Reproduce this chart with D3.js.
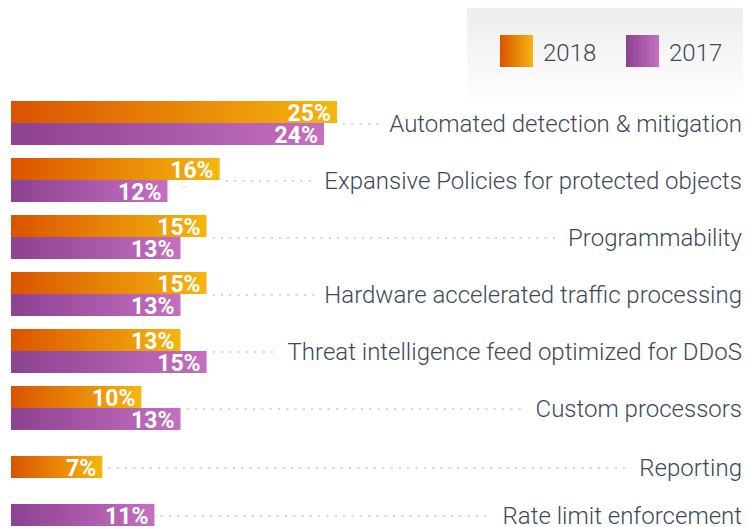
<!DOCTYPE html>
<html>
<head>
<meta charset="utf-8">
<script src="https://cdn.jsdelivr.net/npm/d3@7"></script>
<style>
  body { margin: 0; background: #fff; }
  svg { display: block; font-family: Roboto, "Open Sans", sans-serif; }
</style>
</head>
<body>
<div id="chart"></div>
<script>
// données du graphique
const categories = [
  "Automated detection & mitigation",
  "Expansive Policies for protected objects",
  "Programmability",
  "Hardware accelerated traffic processing",
  "Threat intelligence feed optimized for DDoS",
  "Custom processors",
  "Reporting",
  "Rate limit enforcement"
];
const series = ["2018", "2017"];
const values2018 = [25, 16, 15, 15, 13, 10, 7, null];
const values2017 = [24, 12, 13, 13, 15, 13, null, 11];

//------Dimensions
const W = 746, H = 527;
const barH = 22;

const svg = d3.select("#chart")
  .append("svg")
  .attr("width", W)
  .attr("height", H);

//------Dégradés
const defs = svg.append("defs");
const grads = [
  { id: "g2018", from: "#db5300", to: "#f5b60f" },
  { id: "g2017", from: "#8c4290", to: "#c56fc1" },
  { id: "gLegend", from: "#eceeec", to: "#ffffff", vertical: true }
];
grads.forEach(g => {
  const lg = defs.append("linearGradient")
    .attr("id", g.id)
    .attr("x1", 0).attr("y1", 0)
    .attr("x2", g.vertical ? 0 : 1)
    .attr("y2", g.vertical ? 1 : 0);
  lg.append("stop").attr("offset", "0%").attr("stop-color", g.from);
  lg.append("stop").attr("offset", "100%").attr("stop-color", g.to);
});
const fillFor = { "2018": "url(#g2018)", "2017": "url(#g2017)" };

//------Échelles
const xScale = d3.scaleLinear().domain([0, 25]).range([11, 337]);
// centre de chaque ligne (les deux dernières lignes n'ont qu'une barre)
const rowScale = d3.scaleLinear().domain([0, 5, 6, 7]).range([123, 408, 467, 515]);
const serieScale = d3.scaleBand().domain(series).range([-barH, barH]);

//------Légende
const legend = svg.append("g");
legend.append("rect")
  .attr("x", 467).attr("y", 8)
  .attr("width", 276).attr("height", 99)
  .attr("fill", "url(#gLegend)");
const legX = d3.scaleOrdinal().domain(series).range([500, 626]);
series.forEach(s => {
  legend.append("rect")
    .attr("x", legX(s)).attr("y", 35)
    .attr("width", 33).attr("height", 32)
    .attr("fill", fillFor[s]);
  legend.append("text")
    .attr("x", legX(s) + 43).attr("y", 61)
    .attr("fill", "#3c4a57")
    .attr("font-size", 24)
    .attr("font-weight", 300)
    .text(s);
});

//------Données par ligne
const rows = categories.map((c, i) => {
  const bars = [];
  if (values2018[i] != null) bars.push({ serie: "2018", value: values2018[i] });
  if (values2017[i] != null) bars.push({ serie: "2017", value: values2017[i] });
  return { label: c, index: i, bars: bars };
});

const row = svg.selectAll(".row")
  .data(rows)
  .enter()
  .append("g")
  .attr("class", "row")
  .attr("transform", d => `translate(0,${rowScale(d.index)})`);

//------Texte des catégories
row.append("text")
  .attr("x", 742)
  .attr("y", 0)
  .attr("dy", "0.36em")
  .attr("text-anchor", "end")
  .attr("fill", "#3c4a57")
  .attr("font-size", 24)
  .attr("font-weight", 300)
  .text(d => d.label)
  .each(function (d) { d.labelStart = this.getComputedTextLength(); });

//------Lignes pointillées
row.append("line")
  .attr("x1", d => xScale(d3.max(d.bars, b => b.value)) + 6)
  .attr("x2", d => 742 - d.labelStart - 10)
  .attr("y1", 1).attr("y2", 1)
  .attr("stroke", "#d6d6d6")
  .attr("stroke-width", 2.2)
  .attr("stroke-dasharray", "2.2,6.1");

//------Barres
const bar = row.selectAll(".barre")
  .data(d => d.bars.map(b => Object.assign({ single: d.bars.length == 1 }, b)))
  .enter()
  .append("g")
  .attr("class", "barre");

const barY = b => b.single ? -barH / 2 : serieScale(b.serie);

bar.append("rect")
  .attr("x", xScale(0))
  .attr("y", barY)
  .attr("width", b => xScale(b.value) - xScale(0))
  .attr("height", barH)
  .attr("fill", b => fillFor[b.serie]);

bar.append("text")
  .attr("x", b => xScale(b.value) - 6)
  .attr("y", b => barY(b) + barH - 2)
  .attr("text-anchor", "end")
  .attr("fill", "#fff")
  .attr("font-size", 23)
  .attr("font-weight", 700)
  .text(b => b.value + "%");
</script>
</body>
</html>
